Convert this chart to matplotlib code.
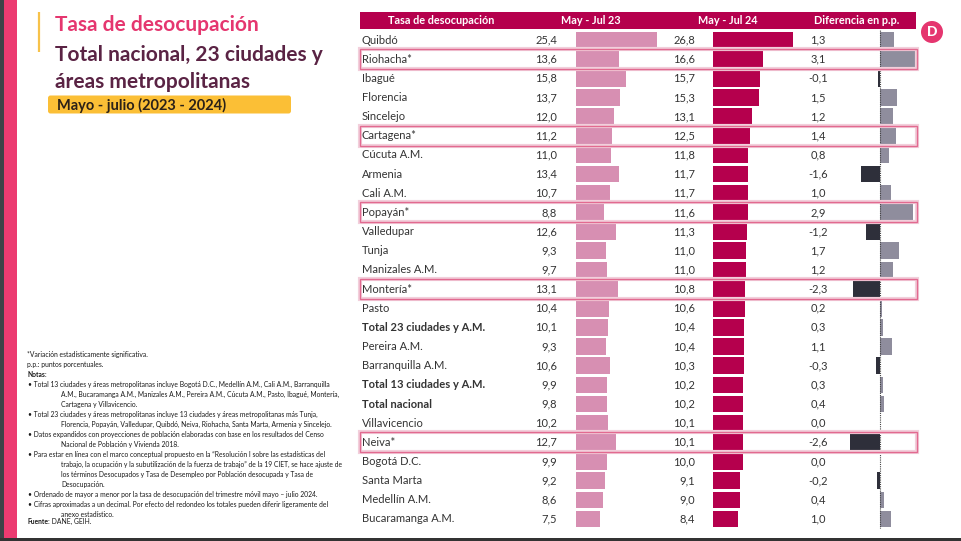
import matplotlib
matplotlib.use('Agg')
import matplotlib.pyplot as plt
from matplotlib import font_manager
from matplotlib.patches import Rectangle, FancyBboxPatch, Circle
from matplotlib.transforms import blended_transform_factory

# datos
ciudades = ["Quibdó", "Riohacha*", "Ibagué", "Florencia", "Sincelejo", "Cartagena*",
            "Cúcuta A.M.", "Armenia", "Cali A.M.", "Popayán*", "Valledupar", "Tunja",
            "Manizales A.M.", "Montería*", "Pasto", "Total 23 ciudades y A.M.",
            "Pereira A.M.", "Barranquilla A.M.", "Total 13 ciudades y A.M.",
            "Total nacional", "Villavicencio", "Neiva*", "Bogotá D.C.", "Santa Marta",
            "Medellín A.M.", "Bucaramanga A.M."]
tasa_23 = [25.4, 13.6, 15.8, 13.7, 12.0, 11.2, 11.0, 13.4, 10.7, 8.8, 12.6, 9.3, 9.7,
           13.1, 10.4, 10.1, 9.3, 10.6, 9.9, 9.8, 10.2, 12.7, 9.9, 9.2, 8.6, 7.5]
tasa_24 = [26.8, 16.6, 15.7, 15.3, 13.1, 12.5, 11.8, 11.7, 11.7, 11.6, 11.3, 11.0, 11.0,
           10.8, 10.6, 10.4, 10.4, 10.3, 10.2, 10.2, 10.1, 10.1, 10.0, 9.1, 9.0, 8.4]
diferencia = [1.3, 3.1, -0.1, 1.5, 1.2, 1.4, 0.8, -1.6, 1.0, 2.9, -1.2, 1.7, 1.2,
              -2.3, 0.2, 0.3, 1.1, -0.3, 0.3, 0.4, 0.0, -2.6, 0.0, -0.2, 0.4, 1.0]
totales = ["Total 23 ciudades y A.M.", "Total 13 ciudades y A.M.", "Total nacional"]
encabezados = ["Tasa de desocupación", "May - Jul 23", "May - Jul 24", "Diferencia en p.p."]

titulo = "Tasa de desocupación"
subtitulo = ["Total nacional, 23 ciudades y", "áreas metropolitanas"]
periodo = "Mayo - julio (2023 - 2024)"

# (nivel, texto, negrita)
notas = [
    (0, "*Variación estadísticamente significativa.", False),
    (0, "p.p.: puntos porcentuales.", False),
    (0, "Notas:", True),
    (1, "• Total 13 ciudades y áreas metropolitanas incluye Bogotá D.C., Medellín A.M., Cali A.M., Barranquilla", False),
    (2, "A.M., Bucaramanga A.M., Manizales A.M., Pereira A.M., Cúcuta A.M., Pasto, Ibagué, Montería,", False),
    (2, "Cartagena y Villavicencio.", False),
    (1, "• Total 23 ciudades y áreas metropolitanas incluye 13 ciudades y áreas metropolitanas más Tunja,", False),
    (2, "Florencia, Popayán, Valledupar, Quibdó, Neiva, Riohacha, Santa Marta, Armenia y Sincelejo.", False),
    (1, "• Datos expandidos con proyecciones de población elaboradas con base en los resultados del Censo", False),
    (2, "Nacional de Población y Vivienda 2018.", False),
    (1, "• Para estar en línea con el marco conceptual propuesto en la \u201cResolución I sobre las estadísticas del", False),
    (2, "trabajo, la ocupación y la subutilización de la fuerza de trabajo\u201d de la 19 CIET, se hace ajuste de", False),
    (2, "los términos Desocupados y Tasa de Desempleo por Población desocupada y Tasa de", False),
    (2, "Desocupación.", False),
    (1, "• Ordenado de mayor a menor por la tasa de desocupación del trimestre móvil mayo – julio 2024.", False),
    (1, "• Cifras aproximadas a un decimal. Por efecto del redondeo los totales pueden diferir ligeramente del", False),
    (2, "anexo estadístico.", False),
]
fuente = ("Fuente:", " DANE, GEIH.")

ROSA = '#d78fb2'
MAGENTA = '#b5004d'
GRIS_POS = '#8f8d9d'
GRIS_NEG = '#2e2f3a'
TEXTO = '#333333'

nombres = {f.name for f in font_manager.fontManager.ttflist}
if 'Liberation Sans Narrow' in nombres:
    FUENTE_NOTAS, TAM_NOTAS = 'Liberation Sans Narrow', 5.3
else:
    FUENTE_NOTAS, TAM_NOTAS = 'Lato', 4.85
plt.rcParams['font.family'] = ['Lato', 'DejaVu Sans']

W, H = 961, 541
n = len(ciudades)
FILA0, ALTO_FILA = 40.0, 19.16
y_sup = FILA0 - ALTO_FILA / 2
y_inf = FILA0 + (n - 0.5) * ALTO_FILA

fig = plt.figure(figsize=(W / 100, H / 100), dpi=100)
fig.patch.set_facecolor('white')


def ejes_px(x0, x1):
    ax = fig.add_axes([x0 / W, 1 - y_inf / H, (x1 - x0) / W, (y_inf - y_sup) / H])
    ax.set_ylim(n - 0.5, -0.5)
    ax.axis('off')
    ax.patch.set_alpha(0)
    return ax


filas = list(range(n))

ax23 = ejes_px(576, 576 + 30 * 3.18)
ax23.set_xlim(0, 30)
ax23.barh(filas, tasa_23, height=0.87, color=ROSA, lw=0)

ax24 = ejes_px(712.7, 712.7 + 30 * 3.0)
ax24.set_xlim(0, 30)
ax24.barh(filas, tasa_24, height=0.87, color=MAGENTA, lw=0)

axd = ejes_px(879.5 - 3.3 * 11.5, 879.5 + 3.3 * 11.5)
axd.set_xlim(-3.3, 3.3)
axd.barh(filas, diferencia, height=0.87, lw=0,
         color=[GRIS_POS if d >= 0 else GRIS_NEG for d in diferencia])
axd.axvline(0, color='#444444', lw=0.8, ls=(0, (1, 1)))

# capa de fondo en pixeles, por encima de las barras
bg = fig.add_axes([0, 0, 1, 1], zorder=3)
bg.set_xlim(0, W)
bg.set_ylim(H, 0)
bg.axis('off')
bg.patch.set_alpha(0)

bg.add_patch(Rectangle((0, 0), 4, H, color='#3d4347', lw=0))
bg.add_patch(Rectangle((4, 0), 12.7, H, color='#ec3b71', lw=0))
bg.add_patch(Rectangle((0, 537.5), W, 4, color='#333333', lw=0))

# titulo
bg.plot([38.5, 38.5], [12, 52], color='#f7c24a', lw=1.6, solid_capstyle='butt')
bg.text(55, 31, titulo, color='#e5366f', fontsize=15, fontweight='bold', va='baseline')
bg.text(55, 61, subtitulo[0], color='#5a2344', fontsize=15, fontweight='bold', va='baseline')
bg.text(55, 88, subtitulo[1], color='#5a2344', fontsize=15, fontweight='bold', va='baseline')
bg.add_patch(FancyBboxPatch((48, 95.5), 243, 18, boxstyle='round,pad=0,rounding_size=2.5',
                            color='#fbbf36', lw=0))
bg.text(57, 105, periodo, color='#2b2118', fontsize=10.5, fontweight='bold', va='center')

# notas
for i, (nivel, texto, negrita) in enumerate(notas):
    x = {0: 27, 1: 28, 2: 61}[nivel]
    bg.text(x, 355 + i * 9.96, texto, fontsize=TAM_NOTAS, va='center', color='#1a1a1a',
            family=[FUENTE_NOTAS, 'DejaVu Sans'], fontweight='bold' if negrita else 'normal')
t_f = bg.text(27, 355 + len(notas) * 9.96, fuente[0], fontsize=TAM_NOTAS, va='baseline',
              color='#1a1a1a', family=[FUENTE_NOTAS, 'DejaVu Sans'], fontweight='bold')
bg.annotate(fuente[1], xy=(1, 0), xycoords=t_f, va='bottom', ha='left',
            fontsize=TAM_NOTAS, color='#1a1a1a', family=[FUENTE_NOTAS, 'DejaVu Sans'])

# encabezado
bg.add_patch(Rectangle((360, 11.7), 556, 17.6, color=MAGENTA, lw=0))
for xc, enc in zip([441, 591, 728, 857], encabezados):
    bg.text(xc, 20.5, enc, color='white', fontsize=7.8, fontweight='bold', ha='center', va='center')

# logo
bg.add_patch(Circle((932, 32), 11, color='#e5366f', lw=0))
bg.text(932.5, 32.5, 'D', color='white', fontsize=10, fontweight='black', ha='center', va='center')

# filas de la tabla
tr = blended_transform_factory(bg.transData, ax23.transData)
fmt = lambda v: f"{v:.1f}".replace('.', ',')
for i, nombre in enumerate(ciudades):
    peso = 'bold' if nombre in totales else 'normal'
    bg.text(362, i, nombre, transform=tr, fontsize=8, va='center', color=TEXTO, fontweight=peso)
    bg.text(557, i, fmt(tasa_23[i]), transform=tr, fontsize=8, va='center', ha='right', color=TEXTO)
    bg.text(695, i, fmt(tasa_24[i]), transform=tr, fontsize=8, va='center', ha='right', color=TEXTO)
    bg.text(818, i, fmt(diferencia[i]), transform=tr, fontsize=8, va='center', ha='center', color=TEXTO)
    if nombre.endswith('*'):
        bg.add_patch(Rectangle((360, i - 0.52), 557, 1.04, transform=tr, fill=False,
                               edgecolor='#f2cfdb', lw=3.0))
        bg.add_patch(Rectangle((360, i - 0.52), 557, 1.04, transform=tr, fill=False,
                               edgecolor='#e26a90', lw=1.0))

fig.savefig('out.png', dpi=100)
